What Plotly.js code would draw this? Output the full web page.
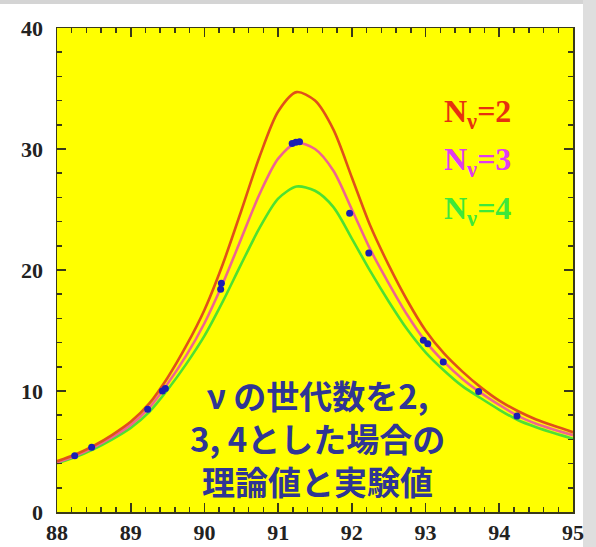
<!DOCTYPE html>
<html>
<head>
<meta charset="utf-8">
<script src="https://cdn.plot.ly/plotly-3.0.1.min.js"></script>
<style>
  html, body { margin: 0; padding: 0; background: #ffffff; }
  #chart { width: 596px; height: 547px; }
</style>
</head>
<body>
<div id="chart"></div>
<script>
// Centre-of-mass energy (GeV) at which the theory curves are sampled
const energy = [88, 88.25, 88.5, 88.75, 89, 89.25, 89.5, 89.75, 90, 90.25, 90.5, 90.75,
                91, 91.25, 91.5, 91.75, 92, 92.25, 92.5, 92.75, 93, 93.25, 93.5, 93.75,
                94, 94.25, 94.5, 94.75, 95];

// Hadronic cross section (nb) predicted for 2, 3 and 4 neutrino generations
const sigmaN2 = [4.2, 4.75, 5.48, 6.38, 7.45, 8.95, 11.1, 13.7, 16.7, 20.5, 24.9, 29.4,
                 33.1, 34.7, 34.0, 31.6, 27.65, 23.65, 20.4, 17.5, 15.0, 13.1, 11.6, 10.3,
                 9.2, 8.35, 7.65, 7.1, 6.6];
const sigmaN3 = [4.1, 4.65, 5.35, 6.2, 7.2, 8.6, 10.6, 12.9, 15.6, 18.9, 22.6, 26.3,
                 29.2, 30.5, 30.0, 28.2, 25.0, 21.7, 18.9, 16.3, 14.1, 12.4, 11.0, 9.85,
                 8.85, 7.95, 7.3, 6.8, 6.35];
const sigmaN4 = [4.02, 4.54, 5.21, 6.01, 6.95, 8.25, 10.1, 12.2, 14.55, 17.4, 20.5, 23.5,
                 25.9, 26.9, 26.55, 25.2, 22.6, 19.9, 17.4, 15.1, 13.2, 11.7, 10.4, 9.4,
                 8.45, 7.6, 7.0, 6.5, 6.05];

// Measured points
const dataEnergy = [88.24, 88.47, 89.23, 89.43, 89.47, 90.22, 90.23, 91.19, 91.24, 91.29,
                    91.97, 92.23, 92.97, 93.03, 93.24, 93.72, 94.24];
const dataSigma  = [4.65, 5.35, 8.5, 10.0, 10.2, 18.4, 18.9, 30.45, 30.55, 30.6,
                    24.7, 21.4, 14.2, 13.9, 12.4, 9.95, 7.93];

// Curve labels and the caption
const curveLabels = ['N<sub>ν</sub>=2', 'N<sub>ν</sub>=3', 'N<sub>ν</sub>=4'];
const captionLines = ['ν の世代数を2,', '3, 4とした場合の', '理論値と実験値'];

const colN2 = '#e0501a', colN3 = '#ef6490', colN4 = '#4ee032';
const labelColours = ['#e6320f', '#e03cf0', '#3ee83a'];

const curve = (y, c) => ({
  x: energy, y: y, type: 'scatter', mode: 'lines',
  line: { color: c, width: 2.6, shape: 'spline', smoothing: 0.8 },
  hoverinfo: 'skip'
});

const traces = [
  curve(sigmaN4, colN4),
  curve(sigmaN3, colN3),
  curve(sigmaN2, colN2),
  {
    x: dataEnergy, y: dataSigma, type: 'scatter', mode: 'markers',
    marker: { color: '#1a1eb4', size: 7 }
  }
];

const tickFont = { family: 'Liberation Serif, Times New Roman, serif', size: 22, color: '#222', weight: 'bold' };

const axisCommon = {
  showgrid: false, zeroline: false,
  showline: true, linecolor: '#3a3a1a', linewidth: 1.5,
  mirror: 'ticks',
  ticks: 'inside', ticklen: 9, tickwidth: 1.6, tickcolor: '#3a3a1a',
  tickfont: tickFont,
  fixedrange: true
};

const annotations = [];
const labelY = [32.9, 28.95, 24.9];
curveLabels.forEach((t, i) => {
  annotations.push({
    x: 93.22, y: labelY[i], xref: 'x', yref: 'y',
    xanchor: 'left', yanchor: 'middle', showarrow: false,
    text: t,
    font: { family: 'Liberation Serif, Times New Roman, serif', size: 32, color: labelColours[i], weight: 'bold' }
  });
});
// Three-line caption drawn as one centred block
annotations.push({
  x: 91.54, y: 6.1, xref: 'x', yref: 'y',
  xanchor: 'center', yanchor: 'middle', align: 'center', showarrow: false,
  text: captionLines.join('<br>'),
  font: { family: 'Noto Sans CJK JP, sans-serif', size: 33, color: '#2f3595', weight: 'bold' }
});

const layout = {
  width: 596, height: 547,
  margin: { l: 57, r: 23, t: 28, b: 35 },
  paper_bgcolor: '#ffffff',
  plot_bgcolor: '#ffff00',
  showlegend: false,
  xaxis: Object.assign({}, axisCommon, {
    range: [88, 95], dtick: 1, tick0: 88,
    minor: { dtick: 0.2, ticks: 'inside', ticklen: 5, tickwidth: 1.5, tickcolor: '#3a3a1a' }
  }),
  yaxis: Object.assign({}, axisCommon, {
    range: [0, 40], dtick: 10, tick0: 0, ticklabelstandoff: 8,
    minor: { dtick: 2, ticks: 'inside', ticklen: 5, tickwidth: 1.5, tickcolor: '#3a3a1a' }
  }),
  annotations: annotations,
  shapes: [
    { type: 'rect', xref: 'paper', yref: 'paper', x0: -0.12, x1: 1.05, y0: 1.0496, y1: 1.06,
      fillcolor: '#d4d4d4', line: { width: 0 }, layer: 'below' },
    { type: 'rect', xref: 'paper', yref: 'paper', x0: 1.0194, x1: 1.05, y0: -0.08, y1: 1.06,
      fillcolor: '#dedede', line: { width: 0 }, layer: 'below' }
  ]
};

Plotly.newPlot('chart', traces, layout, { displayModeBar: false, staticPlot: true });
</script>
</body>
</html>
